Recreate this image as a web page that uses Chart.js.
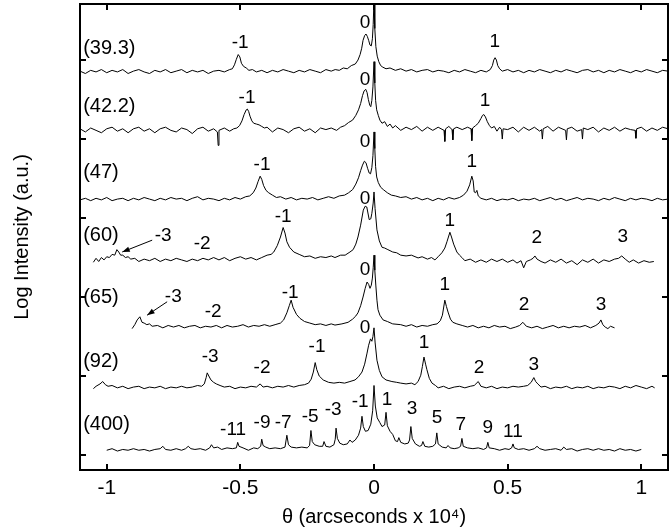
<!DOCTYPE html>
<html>
<head>
<meta charset="utf-8">
<script src="https://cdn.jsdelivr.net/npm/chart.js@4"></script>
<style>
  html, body { margin: 0; padding: 0; background: #fff; }
</style>
</head>
<body>
<canvas id="chart" width="670" height="529"></canvas>
<script>
// Rocking curves, log intensity stacked by period
const sampleLabels = ['(39.3)', '(42.2)', '(47)', '(60)', '(65)', '(92)', '(400)'];
const baselines = [48.5, 41.1, 32.3, 24.7, 16.2, 8.5, 0.6];
const xTicks = [-1, -0.5, 0, 0.5, 1];
const yTicks = [0, 10, 20, 30, 40, 50];

// [theta (x1e4 arcsec), log intensity above baseline]
const scan39 = [[-1.10,0.1],[-1.08,-0.2],[-1.06,0.2],[-1.04,0.0],[-1.02,0.3],[-1.00,-0.1],[-0.98,0.2],[-0.96,0.0],[-0.94,0.3],[-0.92,-0.2],[-0.90,0.1],[-0.88,0.3],[-0.86,0.0],[-0.84,-0.2],[-0.82,0.2],[-0.80,0.0],[-0.78,0.3],[-0.76,-0.1],[-0.74,0.1],[-0.72,0.3],[-0.70,-0.1],[-0.68,0.2],[-0.66,0.0],[-0.64,0.2],[-0.62,-0.2],[-0.60,0.1],[-0.58,0.2],[-0.56,0.0],[-0.54,0.3],[-0.53,0.4],[-0.522,0.9],[-0.515,1.6],[-0.508,2.2],[-0.502,1.9],[-0.496,1.1],[-0.488,0.7],[-0.478,0.5],[-0.468,0.2],[-0.455,0.3],[-0.44,0.0],[-0.42,0.2],[-0.40,-0.1],[-0.38,0.2],[-0.36,0.0],[-0.34,0.3],[-0.32,0.1],[-0.30,-0.1],[-0.28,0.2],[-0.26,0.0],[-0.24,0.3],[-0.22,0.1],[-0.20,-0.1],[-0.18,0.3],[-0.16,0.1],[-0.145,0.3],[-0.13,0.2],[-0.115,0.5],[-0.10,0.4],[-0.085,0.8],[-0.07,1.0],[-0.06,1.5],[-0.052,2.2],[-0.046,3.0],[-0.041,4.0],[-0.035,4.6],[-0.03,4.8],[-0.025,4.5],[-0.02,4.0],[-0.015,3.4],[-0.01,3.3],[-0.006,4.2],[-0.003,6.0],[0.0,9.2],[0.003,5.5],[0.007,3.2],[0.012,2.0],[0.018,1.3],[0.025,0.8],[0.033,0.6],[0.045,0.4],[0.06,0.5],[0.08,0.2],[0.10,0.4],[0.12,0.1],[0.14,0.3],[0.16,0.0],[0.18,0.2],[0.20,0.3],[0.22,0.0],[0.24,0.2],[0.26,0.1],[0.28,-0.1],[0.30,0.2],[0.32,0.0],[0.34,0.3],[0.36,0.1],[0.38,-0.1],[0.40,0.2],[0.42,0.0],[0.435,0.3],[0.443,0.8],[0.448,1.5],[0.453,1.8],[0.458,1.5],[0.463,0.8],[0.47,0.4],[0.48,0.1],[0.50,0.3],[0.52,0.0],[0.54,0.2],[0.56,-0.1],[0.58,0.2],[0.60,0.0],[0.62,0.3],[0.64,0.1],[0.66,-0.1],[0.68,0.2],[0.70,0.0],[0.72,0.3],[0.74,0.1],[0.76,-0.1],[0.78,0.2],[0.80,0.3],[0.82,0.0],[0.84,0.2],[0.86,-0.1],[0.88,0.2],[0.90,0.0],[0.92,0.3],[0.94,0.1],[0.96,-0.1],[0.98,0.2],[1.00,0.0],[1.02,0.3],[1.04,0.1],[1.06,-0.1],[1.08,0.2],[1.10,0.1]];

const scan42 = [[-1.10,0.2],[-1.08,-0.2],[-1.06,0.3],[-1.04,0.0],[-1.02,-0.3],[-1.00,0.2],[-0.98,0.4],[-0.96,-0.1],[-0.94,0.2],[-0.92,-0.3],[-0.90,0.2],[-0.88,0.4],[-0.86,-0.1],[-0.84,0.2],[-0.82,-0.3],[-0.80,0.2],[-0.78,0.4],[-0.76,0.0],[-0.74,-0.2],[-0.72,0.3],[-0.70,0.1],[-0.68,-0.4],[-0.66,0.2],[-0.64,0.4],[-0.62,-0.1],[-0.60,0.2],[-0.586,-0.2],[-0.583,-1.9],[-0.58,0.0],[-0.56,0.3],[-0.54,-0.1],[-0.525,0.2],[-0.513,0.3],[-0.503,0.6],[-0.494,1.2],[-0.486,2.0],[-0.478,2.6],[-0.474,2.7],[-0.469,2.4],[-0.464,1.8],[-0.457,1.2],[-0.45,0.9],[-0.44,0.8],[-0.43,0.7],[-0.42,0.5],[-0.41,0.3],[-0.40,0.4],[-0.38,-0.2],[-0.36,0.3],[-0.34,0.1],[-0.32,-0.3],[-0.30,0.2],[-0.28,0.4],[-0.26,-0.1],[-0.24,0.2],[-0.22,-0.3],[-0.20,0.3],[-0.18,0.1],[-0.16,0.3],[-0.14,0.0],[-0.125,0.4],[-0.11,0.6],[-0.095,1.0],[-0.08,1.3],[-0.068,1.9],[-0.058,2.6],[-0.05,3.4],[-0.043,4.4],[-0.037,5.0],[-0.031,5.2],[-0.026,4.8],[-0.021,3.9],[-0.016,3.2],[-0.012,3.0],[-0.008,3.8],[-0.004,5.5],[0.0,8.7],[0.003,6.0],[0.006,3.8],[0.01,2.6],[0.016,1.9],[0.022,1.3],[0.03,0.9],[0.04,1.1],[0.05,0.5],[0.06,0.8],[0.07,0.3],[0.08,0.6],[0.10,0.0],[0.12,0.4],[0.14,0.1],[0.16,0.5],[0.18,-0.1],[0.20,0.4],[0.22,0.0],[0.24,0.4],[0.262,0.0],[0.265,-1.4],[0.268,0.2],[0.28,0.5],[0.292,0.1],[0.295,-1.2],[0.298,0.2],[0.31,0.4],[0.33,0.1],[0.35,0.4],[0.363,0.2],[0.366,-1.3],[0.369,0.3],[0.38,0.6],[0.39,0.9],[0.40,1.5],[0.406,1.9],[0.411,2.0],[0.417,1.7],[0.424,1.1],[0.432,0.6],[0.44,0.3],[0.45,0.5],[0.46,-0.1],[0.47,0.4],[0.477,0.1],[0.48,-1.1],[0.483,0.2],[0.50,0.1],[0.52,0.4],[0.54,-0.2],[0.56,0.4],[0.58,0.0],[0.60,0.4],[0.62,-0.1],[0.627,0.1],[0.63,-1.1],[0.633,0.2],[0.65,0.5],[0.67,-0.1],[0.69,0.4],[0.717,0.0],[0.72,-1.2],[0.723,0.2],[0.74,0.4],[0.76,-0.1],[0.777,0.1],[0.78,-1.1],[0.783,0.3],[0.80,0.1],[0.82,0.4],[0.84,-0.2],[0.86,0.3],[0.88,0.0],[0.90,0.4],[0.92,-0.1],[0.94,0.3],[0.96,0.1],[0.977,0.0],[0.98,-1.0],[0.983,0.2],[1.00,0.4],[1.02,-0.1],[1.04,0.3],[1.06,0.0],[1.08,0.4],[1.10,0.2]];

const scan47 = [[-1.10,0.0],[-1.08,0.2],[-1.06,-0.1],[-1.04,0.2],[-1.02,0.0],[-1.00,0.3],[-0.98,-0.1],[-0.96,0.1],[-0.94,0.2],[-0.92,-0.1],[-0.90,0.2],[-0.88,0.0],[-0.86,0.3],[-0.84,0.1],[-0.82,-0.1],[-0.80,0.2],[-0.78,0.0],[-0.76,0.3],[-0.74,0.1],[-0.72,0.2],[-0.70,-0.1],[-0.68,0.2],[-0.66,0.4],[-0.64,0.0],[-0.62,0.2],[-0.60,0.1],[-0.58,-0.1],[-0.56,0.2],[-0.54,0.0],[-0.52,0.3],[-0.50,0.1],[-0.48,0.4],[-0.465,0.5],[-0.452,0.9],[-0.442,1.5],[-0.434,2.3],[-0.426,3.0],[-0.42,2.6],[-0.413,1.8],[-0.404,1.2],[-0.394,0.9],[-0.38,0.6],[-0.365,0.3],[-0.35,0.4],[-0.33,0.1],[-0.31,0.3],[-0.29,0.0],[-0.27,0.2],[-0.25,0.1],[-0.23,0.3],[-0.21,0.0],[-0.19,0.2],[-0.17,0.4],[-0.15,0.2],[-0.13,0.5],[-0.11,0.6],[-0.095,0.9],[-0.08,1.3],[-0.068,2.0],[-0.058,2.8],[-0.05,3.7],[-0.043,4.4],[-0.036,4.9],[-0.03,4.7],[-0.024,4.0],[-0.018,3.4],[-0.013,3.3],[-0.008,4.1],[-0.004,5.6],[0.0,8.6],[0.003,6.5],[0.006,4.2],[0.01,2.9],[0.016,2.2],[0.025,1.6],[0.035,1.3],[0.05,0.9],[0.065,0.6],[0.08,0.5],[0.10,0.3],[0.12,0.4],[0.14,0.1],[0.16,0.3],[0.18,0.0],[0.20,0.2],[0.22,-0.1],[0.24,0.2],[0.26,0.0],[0.28,0.3],[0.30,0.1],[0.32,0.3],[0.335,0.6],[0.348,1.1],[0.358,1.9],[0.366,3.0],[0.371,2.4],[0.375,1.0],[0.38,0.9],[0.385,1.2],[0.39,0.5],[0.40,0.2],[0.42,0.0],[0.44,0.2],[0.46,-0.1],[0.48,0.1],[0.50,0.0],[0.52,0.2],[0.54,-0.1],[0.56,0.1],[0.58,0.0],[0.60,0.2],[0.62,-0.1],[0.64,0.1],[0.66,0.3],[0.68,0.0],[0.70,0.2],[0.72,-0.1],[0.74,0.1],[0.76,0.3],[0.78,0.0],[0.80,0.2],[0.82,0.1],[0.84,-0.1],[0.86,0.2],[0.88,0.0],[0.90,0.3],[0.92,0.1],[0.94,-0.1],[0.96,0.2],[0.98,0.0],[1.00,0.2],[1.02,0.1],[1.04,-0.1],[1.06,0.2],[1.08,0.0],[1.10,0.1]];

const scan60 = [[-1.05,-0.3],[-1.04,0.2],[-1.03,-0.2],[-1.02,0.3],[-1.01,0.0],[-1.00,0.4],[-0.99,0.3],[-0.98,0.7],[-0.97,0.6],[-0.962,1.3],[-0.955,1.0],[-0.948,0.6],[-0.94,0.6],[-0.93,0.3],[-0.92,0.4],[-0.91,0.1],[-0.895,0.2],[-0.88,-0.2],[-0.86,0.1],[-0.84,-0.1],[-0.82,0.2],[-0.80,-0.2],[-0.78,0.1],[-0.76,-0.1],[-0.74,0.2],[-0.72,0.0],[-0.70,-0.2],[-0.68,0.1],[-0.66,-0.1],[-0.64,0.2],[-0.62,0.0],[-0.60,0.3],[-0.58,0.0],[-0.56,0.3],[-0.54,-0.1],[-0.52,0.2],[-0.50,0.4],[-0.48,0.1],[-0.46,0.3],[-0.44,0.0],[-0.42,0.3],[-0.40,0.6],[-0.385,0.7],[-0.375,1.0],[-0.362,1.8],[-0.35,2.9],[-0.34,4.1],[-0.333,3.4],[-0.326,2.3],[-0.316,1.6],[-0.30,1.0],[-0.28,0.7],[-0.26,0.4],[-0.24,0.5],[-0.22,0.2],[-0.20,0.4],[-0.18,0.3],[-0.16,0.5],[-0.146,0.3],[-0.125,0.6],[-0.108,0.6],[-0.09,1.0],[-0.078,1.3],[-0.068,2.0],[-0.06,2.9],[-0.05,4.4],[-0.04,6.3],[-0.033,6.8],[-0.027,6.7],[-0.018,5.1],[-0.012,5.2],[-0.008,5.9],[-0.003,7.2],[0.0,8.6],[0.004,6.5],[0.011,3.8],[0.02,2.4],[0.03,1.6],[0.04,1.5],[0.052,1.3],[0.07,1.0],[0.085,0.9],[0.10,0.6],[0.12,0.5],[0.14,0.6],[0.165,0.25],[0.18,0.4],[0.20,0.1],[0.215,0.3],[0.228,0.0],[0.24,0.4],[0.254,0.9],[0.265,1.5],[0.273,2.3],[0.284,3.5],[0.29,2.9],[0.298,2.0],[0.31,1.0],[0.32,0.6],[0.329,0.3],[0.34,-0.1],[0.36,0.1],[0.38,-0.3],[0.40,0.0],[0.42,-0.3],[0.44,0.1],[0.46,-0.2],[0.48,0.1],[0.50,-0.3],[0.52,0.0],[0.535,-0.4],[0.55,-0.1],[0.56,-1.0],[0.57,-0.2],[0.585,0.0],[0.595,0.2],[0.602,0.5],[0.61,0.1],[0.625,-0.2],[0.64,-0.4],[0.66,0.0],[0.68,-0.3],[0.70,0.1],[0.72,-0.4],[0.74,-0.1],[0.76,-0.6],[0.78,0.0],[0.80,-0.3],[0.82,0.1],[0.84,-0.4],[0.86,0.0],[0.88,-0.2],[0.90,0.1],[0.915,0.2],[0.927,0.5],[0.94,0.1],[0.955,-0.3],[0.97,0.0],[0.99,-0.4],[1.01,-0.1],[1.03,-0.3],[1.047,-0.2]];

const scan65 = [[-0.905,-0.2],[-0.895,0.3],[-0.886,0.9],[-0.876,1.3],[-0.868,0.6],[-0.86,0.5],[-0.85,0.3],[-0.84,0.4],[-0.83,0.1],[-0.81,0.2],[-0.79,-0.1],[-0.77,0.2],[-0.75,0.0],[-0.73,0.2],[-0.71,-0.1],[-0.69,0.1],[-0.67,0.2],[-0.65,-0.1],[-0.63,0.1],[-0.61,0.0],[-0.59,0.2],[-0.57,-0.1],[-0.55,0.2],[-0.53,0.0],[-0.51,0.1],[-0.49,0.3],[-0.47,0.0],[-0.45,0.2],[-0.43,0.1],[-0.41,0.3],[-0.39,0.1],[-0.37,0.3],[-0.35,0.5],[-0.338,0.9],[-0.326,1.8],[-0.317,2.7],[-0.31,3.4],[-0.303,2.5],[-0.29,1.6],[-0.277,1.1],[-0.26,0.7],[-0.24,0.5],[-0.22,0.3],[-0.20,0.4],[-0.18,0.2],[-0.16,0.4],[-0.146,0.25],[-0.12,0.4],[-0.097,0.6],[-0.08,1.0],[-0.068,1.4],[-0.06,1.8],[-0.05,2.7],[-0.041,3.8],[-0.033,4.9],[-0.026,5.7],[-0.02,5.4],[-0.015,4.9],[-0.01,5.3],[-0.006,6.2],[-0.003,7.5],[0.0,9.1],[0.003,7.2],[0.007,5.2],[0.011,3.4],[0.015,2.2],[0.022,1.5],[0.034,0.9],[0.05,0.7],[0.07,0.4],[0.10,0.3],[0.12,0.1],[0.14,0.3],[0.16,0.0],[0.18,0.2],[0.20,0.1],[0.22,0.3],[0.236,0.4],[0.248,0.8],[0.256,1.5],[0.265,3.4],[0.271,2.6],[0.277,1.9],[0.286,1.0],[0.295,0.6],[0.31,0.4],[0.33,0.2],[0.35,0.0],[0.37,0.2],[0.39,-0.1],[0.41,0.1],[0.43,-0.1],[0.45,0.2],[0.47,0.0],[0.49,0.1],[0.51,-0.2],[0.53,0.0],[0.545,0.2],[0.557,0.6],[0.57,0.1],[0.59,-0.1],[0.61,0.1],[0.63,-0.2],[0.65,0.0],[0.67,0.2],[0.69,-0.1],[0.71,0.1],[0.73,-0.1],[0.75,0.1],[0.77,0.0],[0.79,0.2],[0.81,-0.1],[0.83,0.2],[0.842,0.5],[0.849,0.9],[0.856,0.3],[0.865,0.0],[0.875,-0.2],[0.885,0.1],[0.90,-0.1]];

const scan92 = [[-1.05,-0.1],[-1.04,0.2],[-1.025,0.5],[-1.015,0.8],[-1.005,0.4],[-0.995,0.2],[-0.98,0.3],[-0.96,0.0],[-0.94,0.2],[-0.92,-0.1],[-0.90,0.1],[-0.88,0.2],[-0.86,-0.1],[-0.84,0.1],[-0.82,0.0],[-0.80,0.2],[-0.78,-0.1],[-0.76,0.1],[-0.74,0.0],[-0.72,0.2],[-0.70,0.0],[-0.68,0.1],[-0.66,0.3],[-0.645,0.2],[-0.635,0.5],[-0.628,1.3],[-0.624,1.9],[-0.618,1.5],[-0.61,1.0],[-0.60,0.7],[-0.59,0.5],[-0.576,0.3],[-0.56,0.1],[-0.54,0.2],[-0.52,-0.1],[-0.50,0.1],[-0.48,0.0],[-0.46,0.2],[-0.44,0.1],[-0.426,0.5],[-0.415,0.1],[-0.40,0.2],[-0.38,0.0],[-0.36,0.2],[-0.34,0.1],[-0.32,0.3],[-0.30,0.1],[-0.28,0.3],[-0.26,0.4],[-0.245,0.6],[-0.235,1.1],[-0.227,2.0],[-0.22,3.2],[-0.214,2.3],[-0.205,1.5],[-0.19,1.0],[-0.17,0.7],[-0.15,0.6],[-0.13,0.7],[-0.11,0.6],[-0.09,0.8],[-0.071,1.0],[-0.058,1.4],[-0.045,2.0],[-0.035,3.0],[-0.026,4.4],[-0.02,5.4],[-0.013,6.2],[-0.008,5.9],[-0.004,6.5],[0.0,7.6],[0.004,5.8],[0.011,3.5],[0.02,2.2],[0.03,1.4],[0.045,1.0],[0.067,0.8],[0.085,0.7],[0.10,0.6],[0.12,0.5],[0.14,0.6],[0.153,0.4],[0.165,0.8],[0.175,1.6],[0.181,2.7],[0.187,3.9],[0.193,3.0],[0.198,2.3],[0.207,1.2],[0.217,0.6],[0.23,0.3],[0.24,0.0],[0.26,0.2],[0.28,-0.1],[0.30,0.1],[0.32,0.2],[0.34,0.0],[0.36,0.2],[0.375,0.3],[0.39,0.8],[0.40,0.2],[0.42,0.0],[0.44,0.2],[0.46,-0.1],[0.48,0.1],[0.50,0.0],[0.52,0.2],[0.54,0.1],[0.56,0.2],[0.575,0.3],[0.588,0.7],[0.598,1.3],[0.605,0.8],[0.613,0.5],[0.625,0.1],[0.64,0.2],[0.66,-0.1],[0.68,0.1],[0.70,0.0],[0.72,0.2],[0.74,-0.1],[0.76,0.1],[0.78,0.0],[0.80,0.2],[0.82,-0.1],[0.84,0.1],[0.86,0.0],[0.88,0.2],[0.90,0.1],[0.92,-0.1],[0.94,0.2],[0.96,0.0],[0.98,0.3],[1.00,0.1],[1.02,-0.1],[1.04,0.2],[1.05,0.0]];

const scan400 = [[-1.00,0.0],[-0.98,0.2],[-0.96,-0.1],[-0.94,0.1],[-0.92,0.0],[-0.90,0.2],[-0.88,0.0],[-0.86,0.1],[-0.84,-0.1],[-0.82,0.1],[-0.80,0.2],[-0.79,0.5],[-0.78,0.1],[-0.76,0.0],[-0.74,0.2],[-0.72,0.0],[-0.705,0.2],[-0.695,0.5],[-0.685,0.2],[-0.67,0.1],[-0.65,0.2],[-0.63,0.0],[-0.615,0.3],[-0.608,0.7],[-0.60,0.3],[-0.585,0.4],[-0.57,0.1],[-0.55,0.3],[-0.53,0.2],[-0.515,0.3],[-0.51,1.0],[-0.505,0.5],[-0.49,0.3],[-0.47,0.0],[-0.45,0.3],[-0.435,0.2],[-0.424,0.5],[-0.42,1.4],[-0.415,0.6],[-0.405,0.4],[-0.39,0.2],[-0.37,0.3],[-0.35,0.2],[-0.333,0.4],[-0.326,1.9],[-0.32,0.7],[-0.31,0.4],[-0.29,0.3],[-0.27,0.4],[-0.25,0.3],[-0.241,0.6],[-0.236,2.5],[-0.231,1.1],[-0.222,0.7],[-0.205,0.5],[-0.192,0.5],[-0.187,1.1],[-0.18,0.5],[-0.165,0.4],[-0.15,0.7],[-0.145,1.4],[-0.142,2.8],[-0.137,1.5],[-0.128,0.9],[-0.115,0.7],[-0.10,0.8],[-0.09,1.3],[-0.082,1.0],[-0.07,1.3],[-0.058,1.9],[-0.05,2.8],[-0.045,4.3],[-0.04,3.0],[-0.032,2.4],[-0.022,2.5],[-0.012,3.3],[-0.005,5.0],[0.0,8.2],[0.005,5.6],[0.012,4.1],[0.022,3.5],[0.03,3.0],[0.04,3.2],[0.045,4.8],[0.05,3.1],[0.06,2.4],[0.07,2.0],[0.08,1.2],[0.088,1.1],[0.093,1.6],[0.10,1.0],[0.115,0.8],[0.128,0.9],[0.133,1.3],[0.138,3.0],[0.143,1.5],[0.155,0.8],[0.17,0.5],[0.178,0.6],[0.183,1.1],[0.19,0.5],[0.205,0.4],[0.22,0.5],[0.23,0.8],[0.235,2.2],[0.24,0.8],[0.255,0.4],[0.27,0.3],[0.277,0.6],[0.285,0.3],[0.30,0.2],[0.315,0.3],[0.324,0.5],[0.329,1.5],[0.334,0.5],[0.35,0.3],[0.37,0.2],[0.39,0.3],[0.41,0.1],[0.421,0.3],[0.426,1.0],[0.431,0.3],[0.45,0.2],[0.47,0.0],[0.49,0.2],[0.505,0.1],[0.515,0.3],[0.52,0.8],[0.525,0.3],[0.54,0.1],[0.56,0.2],[0.58,0.0],[0.60,0.2],[0.61,0.5],[0.62,0.2],[0.64,0.0],[0.66,0.1],[0.68,0.2],[0.70,0.0],[0.71,0.4],[0.72,0.1],[0.74,0.2],[0.76,-0.1],[0.78,0.1],[0.80,0.2],[0.82,0.0],[0.84,0.2],[0.86,0.0],[0.88,0.1],[0.90,-0.1],[0.92,0.2],[0.94,0.0],[0.96,0.1],[0.98,-0.1],[1.00,0.1]];

const scans = [scan39, scan42, scan47, scan60, scan65, scan92, scan400];

// diffraction order labels: [text, theta, log intensity]
const orderLabels = [
  ['-1',-0.501,52.2],['0',-0.034,54.7],['1',0.452,52.3],
  ['-1',-0.475,45.2],['0',-0.034,47.5],['1',0.415,44.9],
  ['-1',-0.419,36.7],['0',-0.034,39.6],['1',0.366,37.1],
  ['-3',-0.789,27.8],['-2',-0.643,26.8],['-1',-0.34,30.1],['0',-0.034,32.5],['1',0.284,29.7],['2',0.609,27.5],['3',0.931,27.6],
  ['-3',-0.751,20.0],['-2',-0.602,18.1],['-1',-0.314,20.6],['0',-0.034,23.4],['1',0.265,21.5],['2',0.561,19.0],['3',0.849,19.0],
  ['-3',-0.613,12.4],['-2',-0.419,11.0],['-1',-0.213,13.7],['0',-0.034,16.1],['1',0.187,14.2],['2',0.393,11.0],['3',0.598,11.4],
  ['-11',-0.527,3.2],['-9',-0.419,4.1],['-7',-0.34,4.1],['-5',-0.239,4.8],['-3',-0.153,5.7],['-1',-0.052,6.7],
  ['1',0.049,7.0],['3',0.142,5.9],['5',0.236,4.7],['7',0.325,3.8],['9',0.426,3.5],['11',0.52,3.0]
];
const sampleLabelX = -1.088;
const sampleLabelY = [51.5, 44.1, 35.8, 27.8, 19.9, 11.8, 3.9];
// arrows pointing at the weak -3 peaks: [fromTheta, fromY, toTheta, toY]
const arrows = [[-0.83, 27.2, -0.942, 25.7], [-0.774, 19.4, -0.849, 17.7]];

const FONT = '"Liberation Sans", Arial, sans-serif';

const decorations = {
  id: 'decorations',
  afterDatasetsDraw(chart) {
    const { ctx, chartArea: a, scales: { x, y } } = chart;
    ctx.save();
    ctx.strokeStyle = '#000';
    ctx.lineWidth = 2;
    ctx.strokeRect(a.left, a.top, a.right - a.left, a.bottom - a.top);

    // inward ticks on all four sides
    const tl = 6;
    ctx.beginPath();
    xTicks.forEach(v => {
      const px = Math.round(x.getPixelForValue(v));
      ctx.moveTo(px, a.bottom); ctx.lineTo(px, a.bottom - tl);
      ctx.moveTo(px, a.top); ctx.lineTo(px, a.top + tl);
    });
    yTicks.forEach(v => {
      const py = Math.round(y.getPixelForValue(v));
      ctx.moveTo(a.left, py); ctx.lineTo(a.left + tl, py);
      ctx.moveTo(a.right, py); ctx.lineTo(a.right - tl, py);
    });
    ctx.stroke();

    ctx.fillStyle = '#000';
    ctx.textBaseline = 'middle';
    ctx.font = '20px ' + FONT;
    ctx.textAlign = 'left';
    sampleLabels.forEach((t, i) => {
      ctx.fillText(t, x.getPixelForValue(sampleLabelX), y.getPixelForValue(sampleLabelY[i]));
    });

    ctx.font = '19px ' + FONT;
    ctx.textAlign = 'center';
    orderLabels.forEach(([t, tx, ty]) => {
      ctx.fillText(t, x.getPixelForValue(tx), y.getPixelForValue(ty));
    });

    ctx.lineWidth = 1;
    arrows.forEach(([x0, y0, x1, y1]) => {
      const ax = x.getPixelForValue(x0), ay = y.getPixelForValue(y0);
      const bx = x.getPixelForValue(x1), by = y.getPixelForValue(y1);
      const ang = Math.atan2(by - ay, bx - ax);
      ctx.beginPath();
      ctx.moveTo(ax, ay); ctx.lineTo(bx, by);
      ctx.stroke();
      ctx.beginPath();
      ctx.moveTo(bx, by);
      ctx.lineTo(bx - 8 * Math.cos(ang - 0.35), by - 8 * Math.sin(ang - 0.35));
      ctx.lineTo(bx - 8 * Math.cos(ang + 0.35), by - 8 * Math.sin(ang + 0.35));
      ctx.closePath();
      ctx.fill();
    });
    ctx.restore();
  }
};

new Chart(document.getElementById('chart'), {
  type: 'line',
  data: {
    datasets: scans.map((scan, i) => ({
      label: sampleLabels[i],
      data: scan.map(([t, h]) => ({ x: t, y: h + baselines[i] })),
      borderColor: '#000',
      borderWidth: 1,
      pointRadius: 0,
      fill: false,
      tension: 0
    }))
  },
  options: {
    responsive: false,
    animation: false,
    layout: { padding: { top: 4, right: 2, left: 0, bottom: 0 } },
    plugins: { legend: { display: false }, tooltip: { enabled: false } },
    scales: {
      x: {
        type: 'linear',
        min: -1.1,
        max: 1.1,
        afterBuildTicks: s => { s.ticks = xTicks.map(v => ({ value: v })); },
        afterFit: s => { s.height = 59; },
        grid: { display: false, drawTicks: false },
        border: { display: false },
        ticks: { font: { family: FONT, size: 21 }, color: '#000', padding: 6, maxRotation: 0, callback: v => String(v) },
        title: { display: true, text: 'θ (arcseconds x 10⁴)', font: { family: FONT, size: 20 }, color: '#000', padding: { top: 0, bottom: 0 } }
      },
      y: {
        type: 'linear',
        min: -1.9,
        max: 57.1,
        afterBuildTicks: s => { s.ticks = yTicks.map(v => ({ value: v })); },
        afterFit: s => { s.width = 80; },
        grid: { display: false, drawTicks: false },
        border: { display: false },
        ticks: { display: false },
        title: { display: true, text: 'Log Intensity (a.u.)', font: { family: FONT, size: 20 }, color: '#000', padding: { top: 10, bottom: 0 } }
      }
    }
  },
  plugins: [decorations]
});
</script>
</body>
</html>
